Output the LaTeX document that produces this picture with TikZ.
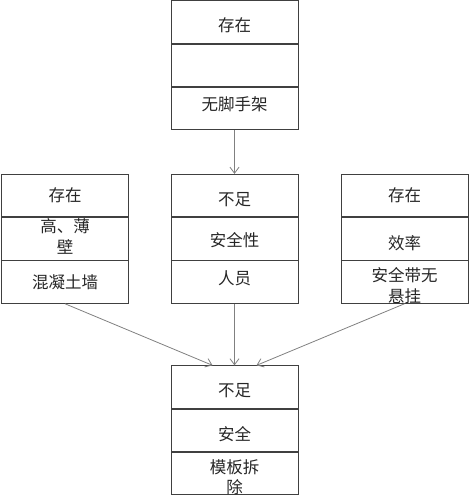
\documentclass[tikz,border=0pt]{standalone}
\usepackage{fontspec}
\newfontfamily\cjk{Noto Sans CJK SC}
\usetikzlibrary{positioning,arrows.meta}
\newcommand\lift[2]{\raisebox{#1}[\height][\depth]{\begin{tabular}{@{}c@{}}#2\end{tabular}}}

\begin{document}
\begin{tikzpicture}[x=1pt,y=-1pt,
    cell/.style={draw=black!75, line width=0.8pt, minimum width=127pt,
      minimum height=42.5pt, inner sep=0pt, align=center, text=black!85,
      font=\cjk\fontsize{16.5}{20.5}\selectfont},
    link/.style={draw=black!50, line width=0.8pt,
      -{Straight Barb[length=6pt,width=9pt]}}]
    \useasboundingbox (0,0) rectangle (469,500);

    % Caja superior
    \node[cell] (ta) at (234.5,22) {\lift{-5pt}{存在}};
    \node[cell, below=0pt of ta] (tb) {};
    \node[cell, below=0pt of tb] (tc) {\lift{2pt}{无脚手架}};

    % Fila del medio
    \node[cell] (la) at (65,195.5) {存在};
    \node[cell, below=0pt of la] (lb) {\lift{0pt}{高、薄\\壁}};
    \node[cell, below=0pt of lb] (lc) {混凝土墙};

    \node[cell] (ma) at (234.5,195.5) {\lift{-6pt}{不足}};
    \node[cell, below=0pt of ma] (mb) {\lift{-4pt}{安全性}};
    \node[cell, below=0pt of mb] (mc) {\lift{2pt}{人员}};

    \node[cell] (ra) at (404.5,195.5) {存在};
    \node[cell, below=0pt of ra] (rb) {\lift{-7pt}{效率}};
    \node[cell, below=0pt of rb] (rc) {\lift{-6pt}{安全带无\\悬挂}};

    % Caja inferior
    \node[cell] (ba) at (234.5,387) {\lift{-5pt}{不足}};
    \node[cell, below=0pt of ba] (bb) {\lift{-6pt}{安全}};
    \node[cell, below=0pt of bb] (bc) {\lift{-6pt}{模板拆\\除}};

    % Flechas
    \draw[link] (tc.south) -- (ma.north);
    \draw[link] (mc.south) -- (ba.north);
    \draw[link] (lc.south) -- ([xshift=-22pt]ba.north);
    \draw[link] (rc.south) -- ([xshift=22pt]ba.north);

\end{tikzpicture}
\end{document}
